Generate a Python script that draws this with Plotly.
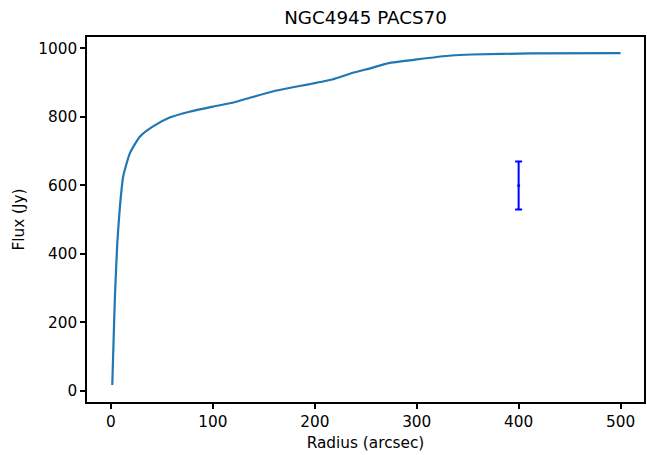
import plotly.graph_objects as go

radius = [1.3, 2.3, 3.9, 6.2, 8.8, 12, 18.6, 28.3, 41.3, 57.6, 77, 100, 119.4, 139, 158.5,
          176, 194, 217, 236.6, 256, 272.5, 298.5, 334, 354, 412, 500]
flux = [17.5, 120, 275, 431, 538, 626, 694, 742, 772, 798, 815, 830, 841, 858, 874,
        885, 895, 909, 928, 943, 957, 967, 979, 982, 985, 986]

err_x = [400]
err_y = [600]
err_size = [70]

title = "NGC4945 PACS70"
xlabel = "Radius (arcsec)"
ylabel = "Flux (Jy)"

font = "DejaVu Sans"

fig = go.Figure()
fig.add_trace(go.Scatter(x=radius, y=flux, mode="lines",
                         line=dict(color="#1f77b4", width=2.2, shape="spline", smoothing=0.5),
                         showlegend=False))
fig.add_trace(go.Scatter(x=err_x, y=err_y, mode="markers",
                         marker=dict(color="blue", size=3),
                         error_y=dict(type="data", array=err_size, color="blue", thickness=2, width=3.5),
                         showlegend=False))

axis_common = dict(showline=True, linecolor="black", linewidth=1.6, mirror=True,
                   ticks="outside", ticklen=5, tickwidth=1.6, tickcolor="black",
                   showgrid=False, zeroline=False,
                   tickfont=dict(family=font, size=15.3, color="black"))

fig.update_layout(
    width=647, height=455,
    margin=dict(l=87, r=1, t=37, b=53),
    plot_bgcolor="white", paper_bgcolor="white",
    title=dict(text=title, x=0.5, xanchor="center", xref="paper", y=1 - 18/455, yanchor="middle",
               font=dict(family=font, size=18.3, color="black")),
    xaxis=dict(range=[-23.5, 523], tickvals=[0, 100, 200, 300, 400, 500],
               title=dict(text=xlabel, font=dict(family=font, size=15.3, color="black"), standoff=7),
               **axis_common),
    yaxis=dict(range=[-32, 1033], tickvals=[0, 200, 400, 600, 800, 1000],
               title=dict(text=ylabel, font=dict(family=font, size=15.3, color="black"), standoff=10),
               **axis_common),
)

fig.write_html("out.html", config={"displayModeBar": False},
               post_script="document.body.style.margin='0';document.body.style.overflow='hidden';")
